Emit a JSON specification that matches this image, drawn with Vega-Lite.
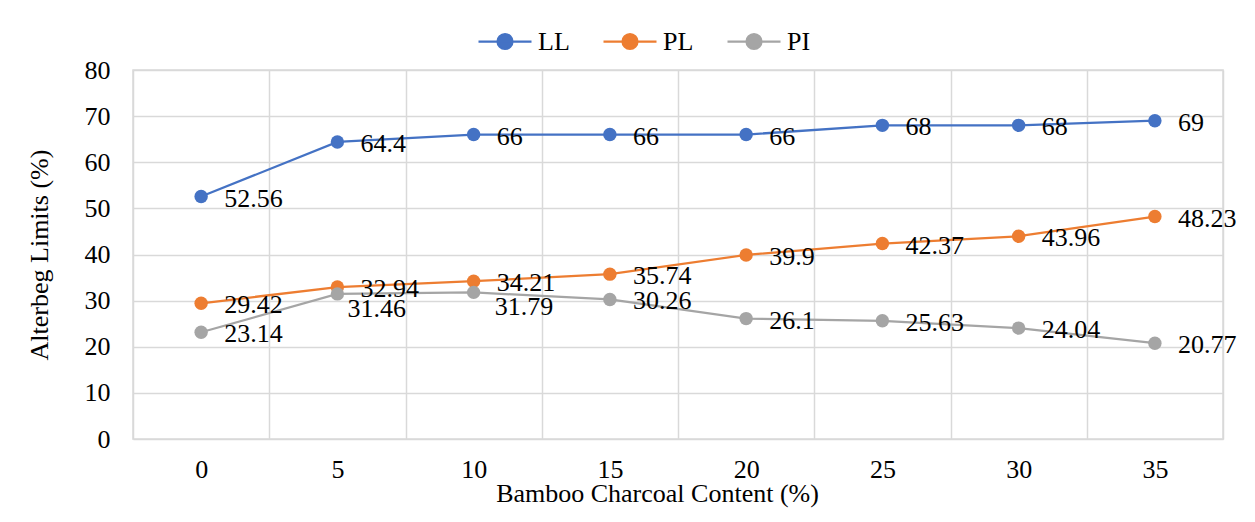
{
  "$schema": "https://vega.github.io/schema/vega-lite/v6.json",
  "autosize": {"type": "none"},
  "width": 1090,
  "height": 369,
  "padding": {"left": 133, "top": 70, "right": 32, "bottom": 83},
  "background": "white",
  "config": {
    "font": "Liberation Serif",
    "view": {"stroke": "#d9d9d9", "strokeWidth": 1.5},
    "axis": {
      "labelFont": "Liberation Serif",
      "titleFont": "Liberation Serif",
      "labelFontSize": 26,
      "titleFontSize": 26,
      "labelColor": "#000000",
      "titleColor": "#000000",
      "titleFontWeight": "normal",
      "gridColor": "#d9d9d9",
      "gridWidth": 1.5,
      "gridOpacity": 1,
      "domain": false,
      "ticks": false
    }
  },
  "data": {
    "values": [
      {"c": 0, "s": "LL", "v": 52.56},
      {"c": 5, "s": "LL", "v": 64.4},
      {"c": 10, "s": "LL", "v": 66},
      {"c": 15, "s": "LL", "v": 66},
      {"c": 20, "s": "LL", "v": 66},
      {"c": 25, "s": "LL", "v": 68},
      {"c": 30, "s": "LL", "v": 68},
      {"c": 35, "s": "LL", "v": 69},
      {"c": 0, "s": "PL", "v": 29.42},
      {"c": 5, "s": "PL", "v": 32.94},
      {"c": 10, "s": "PL", "v": 34.21},
      {"c": 15, "s": "PL", "v": 35.74},
      {"c": 20, "s": "PL", "v": 39.9},
      {"c": 25, "s": "PL", "v": 42.37},
      {"c": 30, "s": "PL", "v": 43.96},
      {"c": 35, "s": "PL", "v": 48.23},
      {"c": 0, "s": "PI", "v": 23.14},
      {"c": 5, "s": "PI", "v": 31.46},
      {"c": 10, "s": "PI", "v": 31.79},
      {"c": 15, "s": "PI", "v": 30.26},
      {"c": 20, "s": "PI", "v": 26.1},
      {"c": 25, "s": "PI", "v": 25.63},
      {"c": 30, "s": "PI", "v": 24.04},
      {"c": 35, "s": "PI", "v": 20.77}
    ]
  },
  "encoding": {
    "x": {
      "field": "c",
      "type": "ordinal",
      "bandPosition": 0.5,
      "scale": {"type": "band", "domain": [0, 5, 10, 15, 20, 25, 30, 35], "paddingInner": 0, "paddingOuter": 0},
      "axis": {
        "title": "Bamboo Charcoal Content (%)",
        "grid": true,
        "tickBand": "extent",
        "labelAngle": 0,
        "labelPadding": 17,
        "titleX": 524,
        "titleY": 54,
        "titleBaseline": "middle",
        "titleAlign": "center",
        "titleAnchor": null
      }
    },
    "y": {
      "field": "v",
      "type": "quantitative",
      "scale": {"domain": [0, 80], "nice": false},
      "axis": {
        "title": "Alterbeg Limits (%)",
        "values": [0, 10, 20, 30, 40, 50, 60, 70, 80],
        "grid": true,
        "labelPadding": 23,
        "titleX": -94,
        "titleY": 184.5,
        "titleBaseline": "middle",
        "titleAlign": "center",
        "titleAnchor": null
      }
    },
    "color": {
      "field": "s",
      "type": "nominal",
      "sort": ["LL", "PL", "PI"],
      "scale": {"domain": ["LL", "PL", "PI"], "range": ["#4472C4", "#ED7D31", "#A5A5A5"]},
      "legend": {
        "title": null,
        "orient": "none",
        "direction": "horizontal",
        "legendX": 344,
        "legendY": -56.5,
        "padding": 0,
        "symbolType": "M-1,0H1M0.283,0A0.283,0.283,0,1,1,-0.283,0A0.283,0.283,0,1,1,0.283,0Z",
        "symbolSize": 2809,
        "symbolStrokeWidth": 2.25,
        "symbolOpacity": 1,
        "labelFont": "Liberation Serif",
        "labelFontSize": 26,
        "labelColor": "#000000",
        "labelOffset": 5,
        "columnPadding": 29,
        "encode": {
          "symbols": {
            "update": {
              "fill": {"scale": "color", "field": "value"},
              "stroke": {"scale": "color", "field": "value"}
            }
          }
        }
      }
    }
  },
  "layer": [
    {"mark": {"type": "line", "strokeWidth": 2.25}},
    {"mark": {"type": "point", "filled": true, "size": 180, "opacity": 1}},
    {
      "transform": [{"filter": "!(datum.s === 'PI' && (datum.c === 5 || datum.c === 10))"}],
      "mark": {"type": "text", "align": "left", "baseline": "middle", "dx": 23, "dy": 2, "fontSize": 26, "font": "Liberation Serif", "color": "#000000"},
      "encoding": {"text": {"field": "v", "type": "quantitative"}, "color": {"value": "#000000"}}
    },
    {
      "transform": [{"filter": "datum.s === 'PI' && datum.c === 5"}],
      "mark": {"type": "text", "align": "left", "baseline": "middle", "dx": 10, "dy": 15, "fontSize": 26, "font": "Liberation Serif", "color": "#000000"},
      "encoding": {"text": {"field": "v", "type": "quantitative"}, "color": {"value": "#000000"}}
    },
    {
      "transform": [{"filter": "datum.s === 'PI' && datum.c === 10"}],
      "mark": {"type": "text", "align": "left", "baseline": "middle", "dx": 21, "dy": 15, "fontSize": 26, "font": "Liberation Serif", "color": "#000000"},
      "encoding": {"text": {"field": "v", "type": "quantitative"}, "color": {"value": "#000000"}}
    }
  ]
}
